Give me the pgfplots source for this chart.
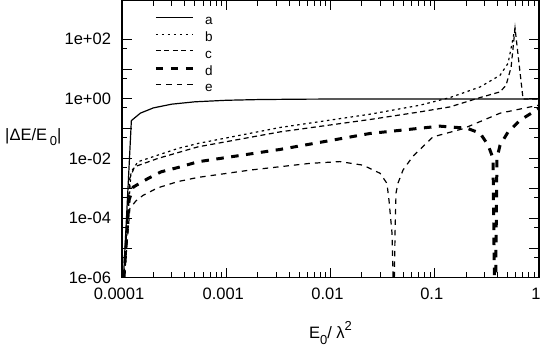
\documentclass[border=0pt]{standalone}
\usepackage{pgfplots}
\pgfplotsset{compat=1.18}
\usepackage{fontspec}
\setmainfont{Liberation Sans}
% gnuplot-like lowered / raised indices
\newcommand\lo[1]{\raisebox{-0.35em}{\fontsize{13}{13}\selectfont #1}}
\newcommand\hi[1]{\raisebox{0.5em}{\fontsize{13}{13}\selectfont #1}}

\begin{document}
\begin{tikzpicture}[font=\fontsize{16.5}{19}\selectfont]
\begin{loglogaxis}[
  at={(0pt,0pt)}, anchor=south west,
  scale only axis, width=417pt, height=277.3pt,
  xmin=1e-4, xmax=1, ymin=1e-6, ymax=2000,
  xtick={1e-4,1e-3,1e-2,1e-1,1},
  xticklabels={0.0001,0.001,0.01,0.1,1},
  minor xtick={2e-4,3e-4,4e-4,5e-4,6e-4,7e-4,8e-4,9e-4,
               2e-3,3e-3,4e-3,5e-3,6e-3,7e-3,8e-3,9e-3,
               2e-2,3e-2,4e-2,5e-2,6e-2,7e-2,8e-2,9e-2,
               2e-1,3e-1,4e-1,5e-1,6e-1,7e-1,8e-1,9e-1},
  ytick={1e-6,1e-5,1e-4,1e-3,1e-2,1e-1,1,10,100},
  yticklabels={1e-06,,1e-04,,1e-02,,1e+00,,1e+02},
  minor ytick={5e-6,5e-5,5e-4,5e-3,5e-2,0.5,5,50},
  major tick length=10pt, minor tick length=5.5pt,
  tick style={black, line width=0.9pt},
  axis line style={line width=1.1pt},
  xticklabel style={yshift=-6.5pt, xshift=-3pt},
  yticklabel style={xshift=-7.5pt},
  xlabel={E\lo{0}/ λ\hi{2}},
  ylabel={|ΔE/E\,\lo{0}|},
  every axis x label/.style={at={(axis description cs:0.5,0)}, anchor=base, yshift=-60.8pt},
  every axis y label/.style={at={(axis description cs:0,0)}, anchor=base west, xshift=-120.3pt, yshift=137.8pt},
  no markers,
]
% a
\addplot[black, line width=1.2pt] coordinates {
  (1e-4,1e-7) (1.23e-4,0.187) (1.5e-4,0.333) (2e-4,0.5) (3e-4,0.667)
  (5e-4,0.8) (1e-3,0.9) (2e-3,0.95) (5e-3,0.98) (0.01,0.99) (0.1,0.999) (1,1.0)
};
% b
\addplot[black, line width=1.2pt, dash pattern=on 2.5pt off 3.5pt] coordinates {
  (1e-4,1e-7) (1.22e-4,3.5e-3) (1.42e-4,7.8e-3) (2.21e-4,0.013) (3.44e-4,0.0218)
  (5.36e-4,0.0321) (3.28e-3,0.110) (0.0239,0.307) (0.0721,0.615) (0.14,1.11)
  (0.272,2.52) (0.423,6.2) (0.505,15.7) (0.589,234)
};
% c
\addplot[black, line width=1.2pt, dash pattern=on 5pt off 3.5pt] coordinates {
  (1e-4,1e-7) (1.19e-4,2.2e-3) (1.32e-4,5.3e-3) (2.21e-4,0.0101) (5.36e-4,0.0247)
  (3.28e-3,0.0784) (0.0239,0.204) (0.0721,0.367) (0.14,0.54) (0.272,1.11)
  (0.423,1.72) (0.483,2.88) (0.54,11.5) (0.589,234) (0.703,1.0) (1,1.0)
};
% d
\addplot[black, line width=3pt, dash pattern=on 7.5pt off 7.5pt] coordinates {
  (1e-4,1e-7) (1.17e-4,4.1e-4) (1.28e-4,1.1e-3) (1.78e-4,2.15e-3) (2.38e-4,3.6e-3)
  (3.44e-4,5.0e-3) (5.36e-4,7.8e-3) (3.28e-3,0.0202) (0.0239,0.0693) (0.112,0.122)
  (0.204,0.104) (0.272,0.071) (0.325,0.0281) (0.362,0.0103) (0.379,1e-8)
  (0.395,0.0103) (0.423,0.0281) (0.505,0.078) (0.658,0.193) (1,0.48)
};
% e
\addplot[black, line width=1.2pt, dash pattern=on 5.5pt off 5pt] coordinates {
  (1e-4,1e-7) (1.19e-4,2.1e-4) (1.36e-4,3.8e-4) (1.59e-4,5.8e-4) (2.2e-4,1.04e-3)
  (3.44e-4,1.69e-3) (5.36e-4,2.33e-3) (1.69e-3,4.1e-3) (6.36e-3,6.9e-3) (0.0123,7.9e-3)
  (0.0205,6.0e-3) (0.0299,3.2e-3) (0.0348,1.47e-3) (0.0364,4.0e-4) (0.0389,3.2e-5)
  (0.0398,1.2e-6) (0.0402,1e-8) (0.0416,3.2e-5) (0.0425,6.9e-4) (0.0444,1.5e-3)
  (0.0496,4.1e-3) (0.0618,0.012) (0.0962,0.0533) (0.187,0.100) (0.423,0.332) (1,0.62)
};
% key, gnuplot style: sample line, then label
\begin{scope}[every node/.style={anchor=base west, inner sep=0pt, font=\fontsize{13.5}{15}\selectfont}]
\draw[black, line width=1.2pt] (axis description cs:0.0815,0.9380) -- (axis description cs:0.1703,0.9380);
\node at (axis description cs:0.199,0.9117) {a};
\draw[black, line width=1.2pt, dash pattern=on 2.5pt off 3.5pt] (axis description cs:0.0815,0.8781) -- (axis description cs:0.1703,0.8781);
\node at (axis description cs:0.199,0.8518) {b};
\draw[black, line width=1.2pt, dash pattern=on 5pt off 3.5pt] (axis description cs:0.0815,0.8190) -- (axis description cs:0.1703,0.8190);
\node at (axis description cs:0.199,0.7926) {c};
\draw[black, line width=3pt, dash pattern=on 7.5pt off 7.5pt] (axis description cs:0.0815,0.7555) -- (axis description cs:0.1703,0.7555);
\node at (axis description cs:0.199,0.7295) {d};
\draw[black, line width=1.2pt, dash pattern=on 5.5pt off 5pt] (axis description cs:0.0815,0.6978) -- (axis description cs:0.1703,0.6978);
\node at (axis description cs:0.199,0.6718) {e};
\end{scope}
\end{loglogaxis}
\pgfresetboundingbox
\path (-122pt,-68.2pt) rectangle (423pt,277.8pt);
\end{tikzpicture}
\end{document}
